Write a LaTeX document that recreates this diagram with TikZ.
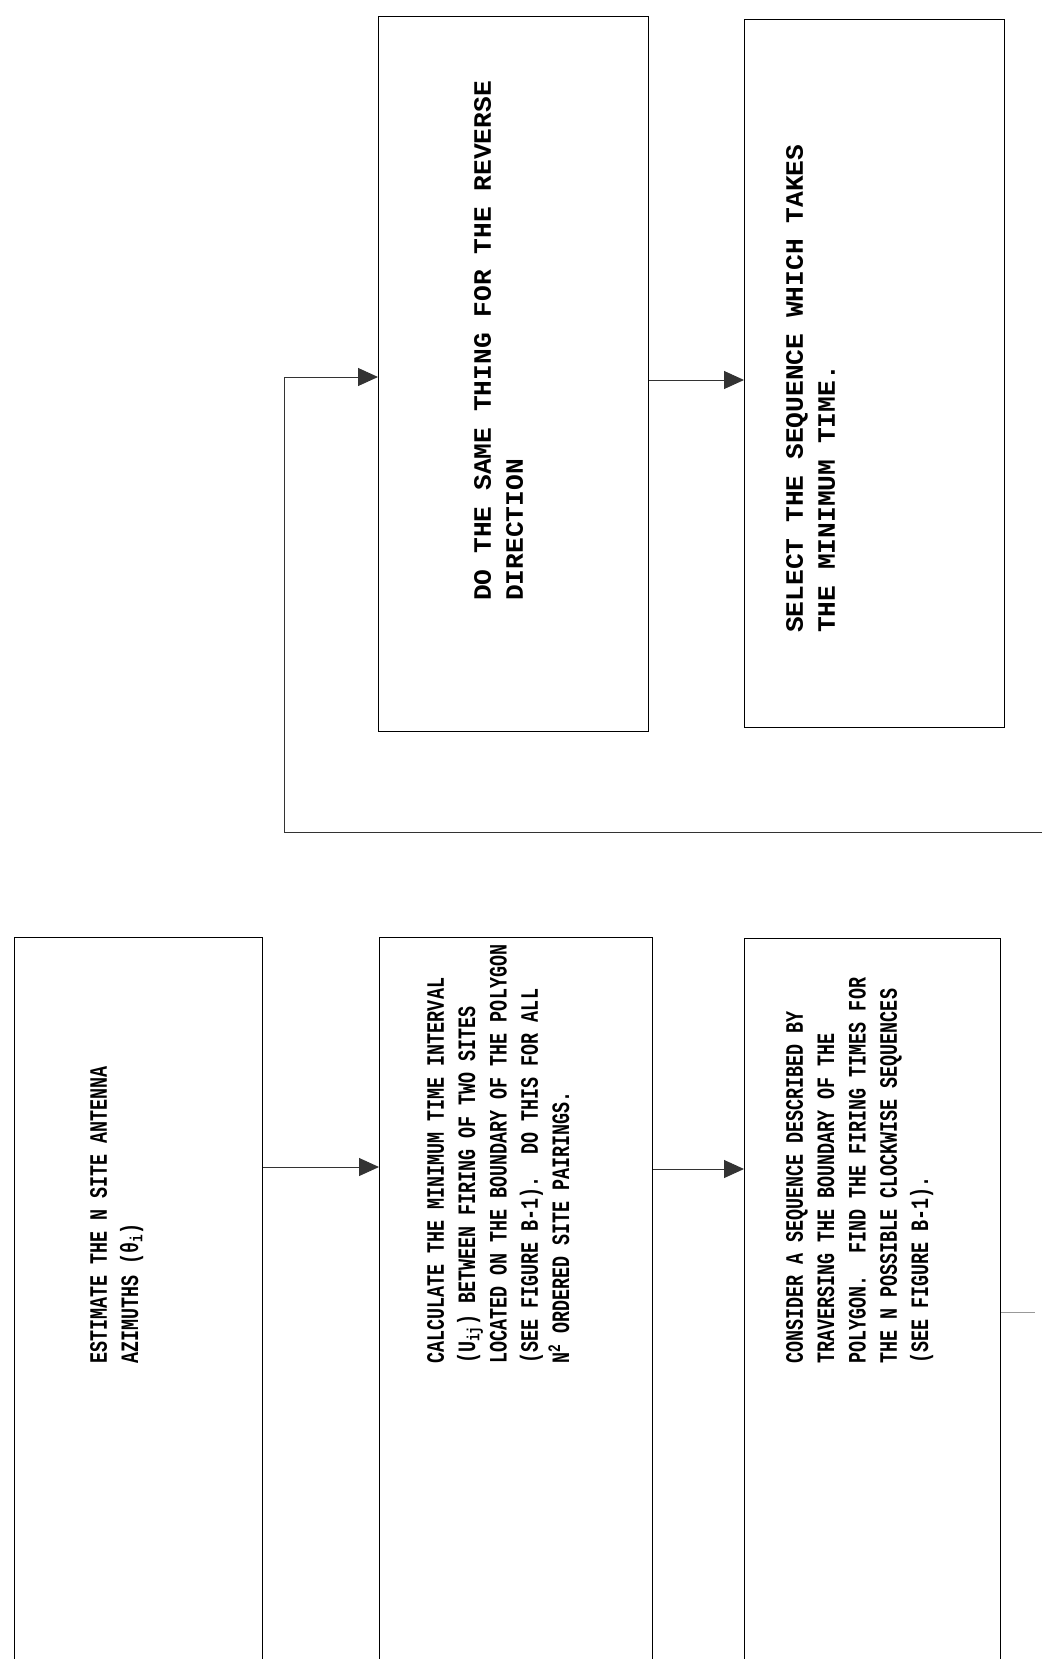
\documentclass[tikz,border=0pt]{standalone}
\usepackage{fontspec}
\newfontfamily\twlow{Liberation Mono}[FakeStretch=0.735]
\newfontfamily\twhigh{Liberation Mono}[FakeStretch=1.05]
\usetikzlibrary{arrows.meta}
\begin{document}
\begin{tikzpicture}[x=1pt,y=-1pt,
  box/.style={draw=black, line width=1.4pt, inner sep=0pt, anchor=north west},
  conn/.style={draw=black!80, line width=1pt},
  arr/.style={conn, -{Triangle[length=20pt,width=18pt]}},
  tlow/.style={rotate=90, anchor=north west, inner sep=0pt, align=left,
    font={\twlow\bfseries\fontsize{25}{31.3}\selectfont\frenchspacing}},
  thigh/.style={rotate=90, anchor=north west, inner sep=0pt, align=left,
    font={\twhigh\bfseries\fontsize{25}{32}\selectfont\frenchspacing}}]
\useasboundingbox (0,0) rectangle (1042,1659);
\clip (0,0) rectangle (1042,1659);
% boxes
\node[box, minimum width=248pt, minimum height=780pt] (A) at (14,937) {};
\node[box, minimum width=273pt, minimum height=780pt] (B) at (379,937) {};
\node[box, minimum width=256pt, minimum height=780pt] (C) at (744,938) {};
\node[box, minimum width=270pt, minimum height=715pt] (D) at (378,16) {};
\node[box, minimum width=260pt, minimum height=708pt] (E) at (744,19) {};
% texts
\node[tlow] (tA) at (90,1364) {ESTIMATE THE N SITE ANTENNA\\AZIMUTHS (θ\textsubscript{i})};
\node[tlow] (tB) at (427,1364) {CALCULATE THE MINIMUM TIME INTERVAL\\(U\textsubscript{ij}) BETWEEN FIRING OF TWO SITES\\LOCATED ON THE BOUNDARY OF THE POLYGON\\(SEE FIGURE B-1).\ \ DO THIS FOR ALL\\N\textsuperscript{2} ORDERED SITE PAIRINGS.};
\node[tlow] (tC) at (786,1364) {CONSIDER A SEQUENCE DESCRIBED BY\\TRAVERSING THE BOUNDARY OF THE\\POLYGON.\ \ FIND THE FIRING TIMES FOR\\THE N POSSIBLE CLOCKWISE SEQUENCES\\(SEE FIGURE B-1).};
\node[thigh] (tD) at (474,601) {DO THE SAME THING FOR THE REVERSE\\DIRECTION};
\node[thigh] (tE) at (786,633) {SELECT THE SEQUENCE WHICH TAKES\\THE MINIMUM TIME.};
% connectors
\coordinate (edge) at (1042,832);
\coordinate (turn) at (284,832);
\coordinate (upper) at (284,377);
\draw[arr] (A.east |- 0,1167) -- (B.west |- 0,1167);
\draw[arr] (B.east |- 0,1169) -- (C.west |- 0,1169);
\draw[conn, draw=black!40] (C.east |- 0,1312) -- (1035,1312);
\draw[arr] (edge) -- (turn) -- (upper) -- (D.west |- upper);
\draw[arr] (D.east |- 0,380) -- (E.west |- 0,380);
\end{tikzpicture}
\end{document}
